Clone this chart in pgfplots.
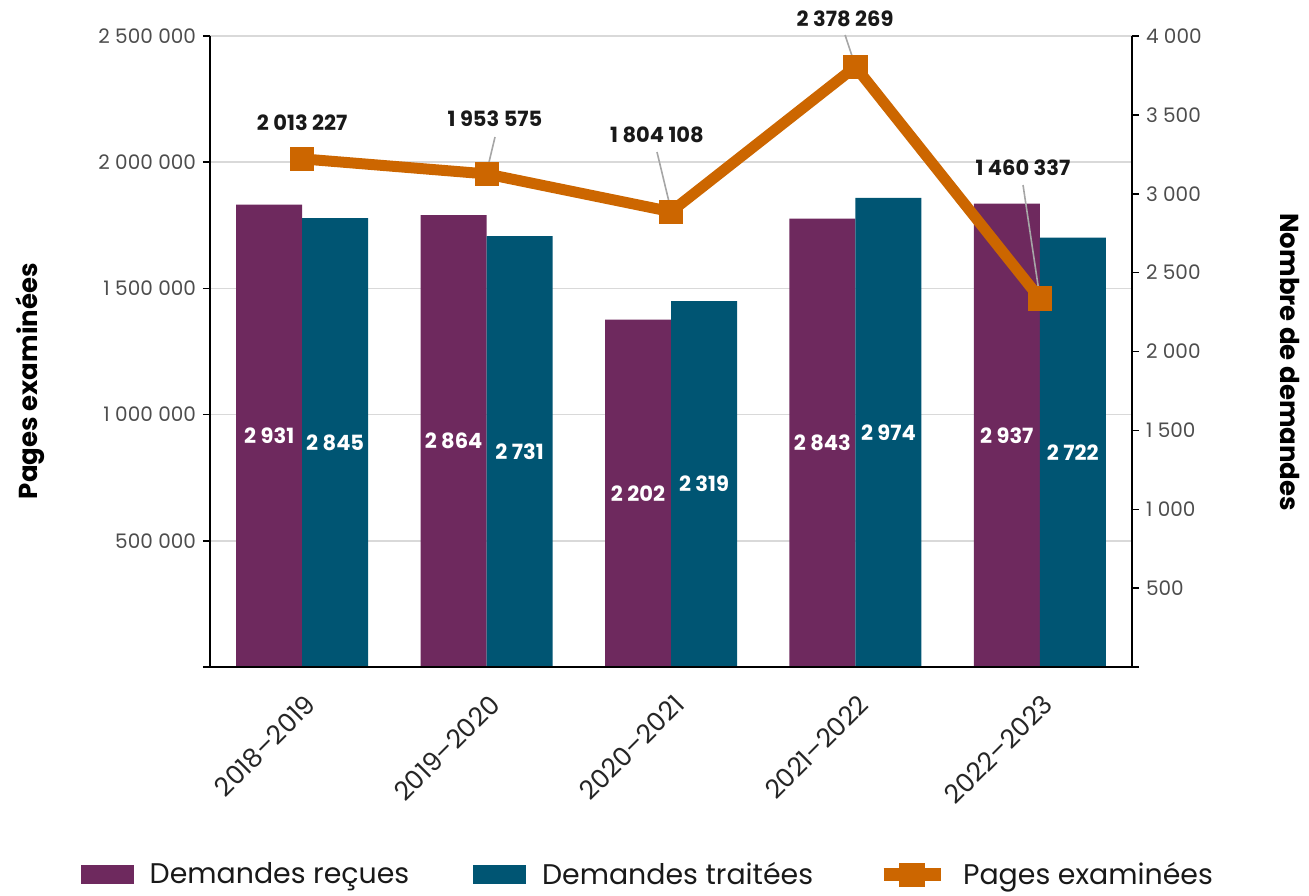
\documentclass[border=0pt]{standalone}
\usepackage{pgfplots}
\pgfplotsset{compat=1.18}
\usepackage{fontspec}
\setmainfont{Poppins}
\definecolor{purp}{RGB}{110,41,94}
\definecolor{teal2}{RGB}{0,85,115}
\definecolor{orng}{RGB}{204,102,0}
\definecolor{gridc}{RGB}{217,217,217}
\definecolor{tickc}{RGB}{77,77,77}
\definecolor{leader}{RGB}{166,166,166}
\begin{document}
\begin{tikzpicture}
\path[use as bounding box] (-105pt,-114pt) rectangle (549.5pt,333.5pt);
\pgfplotsset{
  common/.style={
    scale only axis, width=461pt, height=315.5pt,
    at={(0pt,0pt)}, anchor=south west,
    xmin=-0.5, xmax=4.5,
  }
}
% Axis A: left scale, grid, left ticks, x labels
\begin{axis}[common,
  ymin=0, ymax=2500000, scaled y ticks=false,
  axis x line*=bottom, axis y line*=left,
  axis line style={black, line width=1pt},
  xtick={0,1,2,3,4},
  xticklabels={2018–2019,2019–2020,2020–2021,2021–2022,2022–2023},
  x tick style={draw=none}, major x tick style={draw=none},
  xticklabel style={rotate=45, anchor=north east, font=\fontsize{13}{15}\selectfont, color=black!85, inner sep=2pt, yshift=-5pt, xshift=-4pt},
  ytick={0,500000,1000000,1500000,2000000,2500000},
  yticklabels={,500 000,1 000 000,1 500 000,2 000 000,2 500 000},
  yticklabel style={font=\fontsize{10}{12}\selectfont, color=tickc},
  y tick style={black, line width=0.75pt},
  tick align=outside, major tick length=3.5pt,
  ymajorgrids, grid style={gridc, line width=0.8pt},
  clip=false,
]
\node[rotate=90, font=\bfseries\fontsize{13}{15}\selectfont] at (rel axis cs:-0.195,0.453) {Pages examinées};
\end{axis}
% Axis B: right scale, bars
\begin{axis}[common,
  ymin=0, ymax=4000,
  axis x line*=bottom, axis y line*=right,
  axis line style={black, line width=1pt},
  axis on top,
  xtick=\empty,
  ytick={0,500,1000,1500,2000,2500,3000,3500,4000},
  yticklabels={,500,1 000,1 500,2 000,2 500,3 000,3 500,4 000},
  yticklabel style={font=\fontsize{10}{12}\selectfont, color=tickc},
  y tick style={black, line width=0.75pt},
  tick align=outside, major tick length=3.5pt,
  ybar, bar width=33pt,
  point meta=explicit symbolic,
  nodes near coords,
  visualization depends on={y \as \rawy},
  every node near coord/.append style={font=\bfseries\fontsize{10.5}{12}\selectfont, color=white, anchor=center, shift={(axis direction cs:0,-\rawy/2)}},
  clip=false,
]
\addplot[fill=purp, draw=none, bar shift=-16.5pt] coordinates {
  (0,2931) [2~931] (1,2864) [2~864] (2,2202) [2~202] (3,2843) [2~843] (4,2937) [2~937]};
\addplot[fill=teal2, draw=none, bar shift=16.5pt] coordinates {
  (0,2845) [2~845] (1,2731) [2~731] (2,2319) [2~319] (3,2974) [2~974] (4,2722) [2~722]};
\node[rotate=-90, font=\bfseries\fontsize{13}{15}\selectfont] at (rel axis cs:1.171,0.483) {Nombre de demandes};
\end{axis}
% Axis C: line
\begin{axis}[common,
  ymin=0, ymax=2500000,
  hide axis, clip=false,
  legend style={draw=none, fill=none, at={(0.476,-0.329)}, anchor=center,
    font=\fontsize{14.2}{17}\selectfont, text=black!90,
    /tikz/every odd column/.append style={column sep=6pt},
    /tikz/every even column/.append style={column sep=30pt}},
  legend columns=3,
]
\addlegendimage{legend image code/.code={\fill[purp] (0pt,-4.5pt) rectangle (26pt,4.5pt);}}
\addlegendentry{Demandes reçues}
\addlegendimage{legend image code/.code={\fill[teal2] (0pt,-4.5pt) rectangle (26pt,4.5pt);}}
\addlegendentry{Demandes traitées}
\addplot[orng, line width=5.5pt, mark=square*, mark size=5.8pt, mark options={solid, fill=orng, line width=0.5pt},
  legend image code/.code={\draw[orng, line width=6.5pt] (0pt,0pt) -- (28.5pt,0pt); \path[fill=orng, draw=none, line width=0pt] (7.75pt,-6pt) rectangle (20.75pt,6pt);}]
  coordinates {(0,2013227) (1,1953575) (2,1804108) (3,2378269) (4,1460337)};
\addlegendentry{Pages examinées}
\draw[leader, line width=0.8pt] (axis cs:1.0456,2099900) -- (axis cs:1.0,1960000);
\draw[leader, line width=0.8pt] (axis cs:1.924,2040400) -- (axis cs:2.0,1810000);
\draw[leader, line width=0.8pt] (axis cs:2.944,2504000) -- (axis cs:3.0,2380000);
\draw[leader, line width=0.8pt] (axis cs:3.909,1909700) -- (axis cs:4.0,1465000);
\begin{scope}[every node/.style={font=\bfseries\fontsize{10.5}{12}\selectfont, text=black!90}]
\node at (axis cs:0,2155300) {2~013~227};
\node at (axis cs:1.0456,2171200) {1~953~575};
\node at (axis cs:1.924,2107800) {1~804~108};
\node at (axis cs:2.944,2567400) {2~378~269};
\node at (axis cs:3.909,1977000) {1~460~337};
\end{scope}
\end{axis}
\end{tikzpicture}
\end{document}
